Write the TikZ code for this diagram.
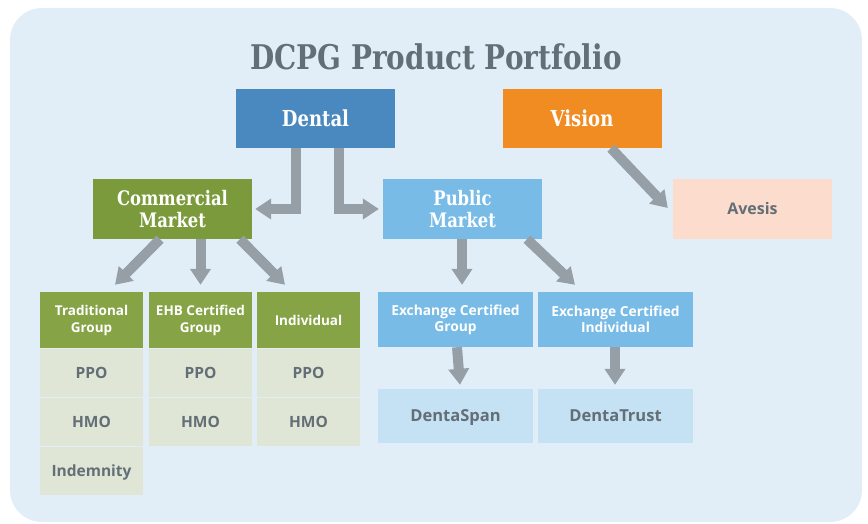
\documentclass[tikz,border=0pt]{standalone}
\usepackage{fontspec}
\setmainfont{Open Sans}
\newfontfamily\slabfont[FakeStretch=0.82]{DejaVu Serif}
\usetikzlibrary{arrows.meta}

\definecolor{bgblue}{HTML}{E1EEF8}
\definecolor{titlegray}{HTML}{646E76}
\definecolor{dentalblue}{HTML}{4A89BF}
\definecolor{visionorange}{HTML}{F18C22}
\definecolor{marketgreen}{HTML}{7A9A3C}
\definecolor{headgreen}{HTML}{86A345}
\definecolor{cellgreen}{HTML}{DFE6D6}
\definecolor{publicblue}{HTML}{77BBE6}
\definecolor{planblue}{HTML}{C5E1F4}
\definecolor{avesispeach}{HTML}{FCDDCD}
\definecolor{arrowgray}{HTML}{979FA6}

\tikzset{
  box/.style={inner sep=0pt, align=center},
  topbox/.style={box, text height=16pt, text depth=0pt, minimum width=159pt,
    minimum height=59pt, text=white, font=\slabfont\bfseries\fontsize{22}{22}\selectfont},
  marketbox/.style={box, minimum width=159pt, minimum height=60pt, text=white,
    font=\slabfont\bfseries\fontsize{20}{22}\selectfont},
  headbox/.style={box, minimum width=103pt, minimum height=56pt, fill=headgreen,
    text=white, font=\bfseries\fontsize{13.5}{17}\selectfont},
  cell/.style={box, text height=11pt, text depth=0pt, minimum width=103pt,
    minimum height=48pt, fill=cellgreen, text=titlegray,
    font=\bfseries\fontsize{15.5}{17}\selectfont},
  exbox/.style={box, minimum width=155pt, minimum height=55pt, fill=publicblue,
    text=white, font=\bfseries\fontsize{13.8}{16}\selectfont},
  planbox/.style={box, text height=11.8pt, text depth=0pt, minimum width=155pt,
    minimum height=54pt, fill=planblue, text=titlegray,
    font=\bfseries\fontsize{16.5}{17}\selectfont},
  arr/.style={draw=arrowgray, line width=10pt, -{Triangle[width=20pt,length=16pt]}}
}

\begin{document}
\begin{tikzpicture}[x=1pt,y=-1pt]
% Background
\useasboundingbox (0,0) rectangle (868,524);
\fill[bgblue, rounded corners=32pt] (10,8) rectangle (862,522);

% Title
\node[text=titlegray, font=\slabfont\bfseries\fontsize{34}{34}\selectfont] (title) at (436,57) {DCPG Product Portfolio};

% Top level
\node[topbox, fill=dentalblue] (dental) at (315.5,118.5) {Dental};
\node[topbox, fill=visionorange] (vision) at (582,118.5) {Vision};

% Markets
\node[marketbox, fill=marketgreen] (commercial) at (172.5,209) {Commercial\\Market};
\node[marketbox, fill=publicblue] (public) at (462.5,209) {Public\\Market};
\node[box, text height=11.5pt, text depth=0pt, minimum width=159pt, minimum height=60pt,
  fill=avesispeach, text=titlegray, font=\bfseries\fontsize{16}{17}\selectfont] (avesis) at (752.5,209) {Avesis};

% Commercial products
\node[headbox] (trad) at (91.5,320) {Traditional\\Group};
\node[headbox] (ehb) at (200.5,320) {EHB Certified\\Group};
\node[headbox] (indiv) at (308.5,320) {Individual};
\node[cell] (tradppo) at (91.5,372.5) {PPO};
\node[cell] (tradhmo) at (91.5,421.5) {HMO};
\node[cell] (tradind) at (91.5,470.5) {Indemnity};
\node[cell] (ehbppo) at (200.5,372.5) {PPO};
\node[cell] (ehbhmo) at (200.5,421.5) {HMO};
\node[cell] (indivppo) at (308.5,372.5) {PPO};
\node[cell] (indivhmo) at (308.5,421.5) {HMO};

% Public products
\node[exbox] (exgroup) at (455.5,319.5) {Exchange Certified\\Group};
\node[exbox] (exindiv) at (615.5,319.5) {Exchange Certified\\Individual};
\node[planbox] (dentaspan) at (455.5,416) {DentaSpan};
\node[planbox] (dentatrust) at (615.5,416) {DentaTrust};

% Arrows
\draw[arr] ([xshift=-19.5pt]dental.south) |- ([xshift=3pt]commercial.east);
\draw[arr] ([xshift=23.5pt]dental.south) |- ([xshift=-4pt]public.west);
\draw[arr] ([xshift=29pt]vision.south) -- ([xshift=-5pt,yshift=1pt]avesis.west);
\draw[arr] ([xshift=-12.5pt]commercial.south) -- ([xshift=23.5pt,yshift=7pt]trad.north);
\draw[arr] ([xshift=28pt]commercial.south) -- ([yshift=7pt]ehb.north);
\draw[arr] ([xshift=67.5pt]commercial.south) -- ([xshift=-23.5pt,yshift=7pt]indiv.north);
\draw[arr] ([xshift=-0.5pt]public.south) -- ([xshift=6.5pt,yshift=7pt]exgroup.north);
\draw[arr] ([xshift=64.5pt]public.south) -- ([xshift=-40.5pt,yshift=7pt]exindiv.north);
\draw[arr] ([xshift=1.5pt]exgroup.south) -- ([xshift=4.5pt,yshift=4pt]dentaspan.north);
\draw[arr] ([xshift=-0.5pt]exindiv.south) -- ([xshift=-0.5pt,yshift=4pt]dentatrust.north);
\end{tikzpicture}
\end{document}
